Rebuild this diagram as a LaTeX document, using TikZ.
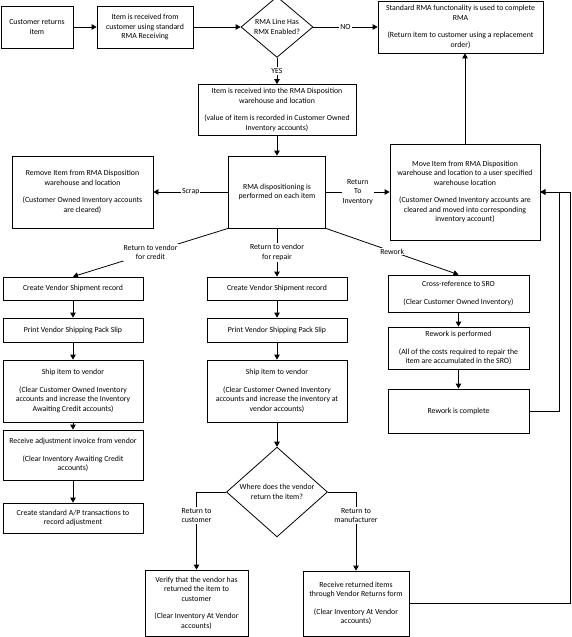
\documentclass[tikz,border=0pt]{standalone}
\usepackage{fontspec}
\setmainfont{Carlito}
\usetikzlibrary{shapes.geometric, arrows.meta}

\begin{document}
\begin{tikzpicture}[x = 1pt, y = -1pt,
        flowbox/.style = {draw, line width = 0.8pt, align = center, inner sep = 1pt, font = \fontsize{7.8}{9.5}\selectfont},
        choice/.style = {flowbox, diamond, inner sep = 0pt},
        tag/.style = {fill = white, align = center, inner sep = 1pt, font = \fontsize{7.8}{9.5}\selectfont},
        link/.style = {line width = 0.8pt, -{Triangle[length = 5pt, width = 5.5pt]}}]
    \useasboundingbox (0, 0) rectangle (571, 637);
    %第一行
    \node[flowbox, minimum width = 72pt, minimum height = 42pt] (cust) at (37, 27) {Customer returns\\item};
    \node[flowbox, minimum width = 96pt, minimum height = 42pt] (recv) at (145, 27) {Item is received from\\customer using standard\\RMA Receiving};
    \node[choice, minimum width = 72pt, minimum height = 53pt] (rmx) at (277, 27) {RMA Line Has\\RMX Enabled?};
    \node[flowbox, minimum width = 165pt, minimum height = 52pt] (stdrma) at (460.5, 27) {Standard RMA functonality is used to complete\\RMA\\[8pt](Return item to customer using a replacement\\order)};
    %处置
    \node[flowbox, minimum width = 158pt, minimum height = 51pt] (disp) at (277, 110) {Item is received into the RMA Disposition\\warehouse and location\\[8pt](value of item is recorded in Customer Owned\\Inventory accounts)};
    \node[flowbox, minimum width = 97pt, minimum height = 72pt] (dispo) at (277, 192) {RMA dispositioning is\\performed on each item};
    \node[flowbox, minimum width = 141pt, minimum height = 72pt] (remove) at (82.5, 192) {Remove Item from RMA Disposition\\warehouse and location\\[8pt](Customer Owned Inventory accounts\\are cleared)};
    \node[flowbox, minimum width = 150pt, minimum height = 96pt] (move) at (465, 192) {Move Item from RMA Disposition\\warehouse and location to a user specified\\warehouse location\\[8pt](Customer Owned Inventory accounts are\\cleared and moved into corresponding\\inventory account)};
    %左列
    \node[flowbox, minimum width = 140pt, minimum height = 23pt] (lcvs) at (73, 288.5) {Create Vendor Shipment record};
    \node[flowbox, minimum width = 140pt, minimum height = 24pt] (lprint) at (73, 330) {Print Vendor Shipping Pack Slip};
    \node[flowbox, minimum width = 140pt, minimum height = 62pt] (lship) at (73, 391) {Ship item to vendor\\[8pt](Clear Customer Owned Inventory\\accounts and increase the Inventory\\Awaiting Credit accounts)};
    \node[flowbox, minimum width = 140pt, minimum height = 50pt] (ladj) at (73, 455) {Receive adjustment invoice from vendor\\[8pt](Clear Inventory Awaiting Credit\\accounts)};
    \node[flowbox, minimum width = 140pt, minimum height = 30pt] (lap) at (73, 518) {Create standard A/P transactions to\\record adjustment};
    %中列
    \node[flowbox, minimum width = 140pt, minimum height = 23pt] (mcvs) at (277, 288.5) {Create Vendor Shipment record};
    \node[flowbox, minimum width = 140pt, minimum height = 24pt] (mprint) at (277, 330) {Print Vendor Shipping Pack Slip};
    \node[flowbox, minimum width = 140pt, minimum height = 62pt] (mship) at (277, 391) {Ship item to vendor\\[8pt](Clear Customer Owned Inventory\\accounts and increase the inventory at\\vendor accounts)};
    \node[choice, minimum width = 101pt, minimum height = 75pt] (where) at (277, 492) {Where does the vendor\\return the item?};
    \node[flowbox, minimum width = 103pt, minimum height = 66pt] (verify) at (196.5, 603) {Verify that the vendor has\\returned the item to\\customer\\[8pt](Clear Inventory At Vendor\\accounts)};
    \node[flowbox, minimum width = 106pt, minimum height = 65pt] (mfr) at (356, 603.5) {Receive returned items\\through Vendor Returns form\\[8pt](Clear Inventory At Vendor\\accounts)};
    %右列
    \node[flowbox, minimum width = 141pt, minimum height = 37pt] (xref) at (458.5, 293.5) {Cross-reference to SRO\\[8pt](Clear Customer Owned Inventory)};
    \node[flowbox, minimum width = 141pt, minimum height = 42pt] (rwperf) at (458.5, 348) {Rework is performed\\[8pt](All of the costs required to repair the\\item are accumulated in the SRO)};
    \node[flowbox, minimum width = 141pt, minimum height = 44pt] (rwdone) at (458.5, 411) {Rework is complete};
    %连线
    \draw[link] (cust) -- (recv);
    \draw[link] (recv) -- (rmx);
    \draw[link] (rmx) -- node[tag] {NO} (stdrma);
    \draw[link] (rmx) -- node[tag] {YES} (disp);
    \draw[link] (disp) -- (dispo);
    \draw[link] (dispo) -- node[tag] {Scrap} (remove);
    \draw[link] (dispo) -- node[tag] {Return\\To\\Inventory} (move);
    \draw[link] (move.north) -- (move.north |- stdrma.south);
    \draw[link] (dispo.south west) -- node[tag] {Return to vendor\\for credit} (lcvs.north);
    \draw[link] (dispo) -- node[tag] {Return to vendor\\for repair} (mcvs);
    \draw[link] (dispo.south east) -- node[tag] {Rework} (xref.north);
    \foreach \a/\b in {lcvs/lprint, lprint/lship, lship/ladj, ladj/lap, mcvs/mprint, mprint/mship, mship/where, xref/rwperf, rwperf/rwdone}
        \draw[link] (\a) -- (\b);
    \draw[link] (where.west) -| node[tag, pos = 0.65] {Return to\\customer} (verify.north);
    \draw[link] (where.east) -| node[tag, pos = 0.65] {Return to\\manufacturer} (mfr.north);
    %回到库存
    \draw[link] (rwdone.east) -- ++(30, 0) |- (move.east);
    \draw[link] (mfr.east) -- ++(161, 0) |- (move.east);
\end{tikzpicture}
\end{document}
